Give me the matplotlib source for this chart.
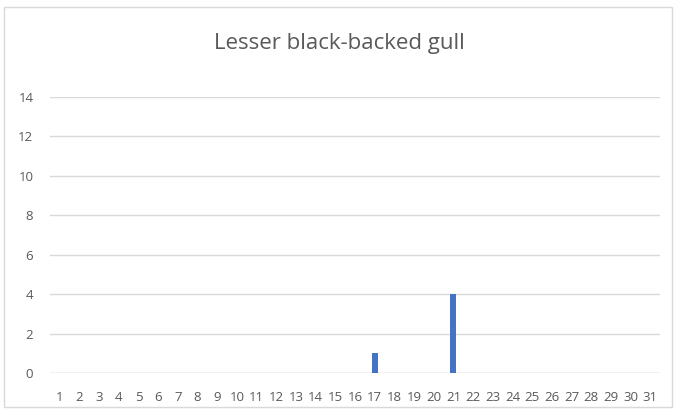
import matplotlib
matplotlib.use("Agg")
import matplotlib.pyplot as plt
from matplotlib.patches import Rectangle

days = [str(d) for d in range(1, 32)]
counts = [0]*16 + [1, 0, 0, 0, 4] + [0]*10
yticks = [0, 2, 4, 6, 8, 10, 12, 14]
title = "Lesser black-backed gull"

plt.rcParams['font.family'] = ['Open Sans', 'DejaVu Sans']
fig = plt.figure(figsize=(6.78, 4.11), dpi=100)
fig.patches.append(Rectangle((4/678, 4/411), 668/678, 400/411, transform=fig.transFigure,
                             fill=False, edgecolor='#D9D9D9', linewidth=1))
ax = fig.add_axes([50/678, 38/411, 610/678, 276/411])
x = list(range(len(days)))
ax.bar(x, counts, width=0.3, color='#4472C4', zorder=3)
ax.set_xlim(-0.5, len(days) - 0.5)
ax.set_ylim(0, 14)
ax.set_yticks(yticks)
ax.set_xticks(x)
ax.set_xticklabels(days)
ax.grid(axis='y', color='#D9D9D9', linewidth=1, zorder=0)
for s in ax.spines.values():
    s.set_visible(False)
ax.axhline(0, color='#D9D9D9', linewidth=1, zorder=2)
ax.tick_params(length=0, labelsize=9.5, colors='#595959', pad=13)
ax.tick_params(axis='y', pad=12)
fig.text(0.5, 0.895, title, ha='center', va='center', fontsize=16, color='#595959')
fig.savefig('out.png', dpi=100)
